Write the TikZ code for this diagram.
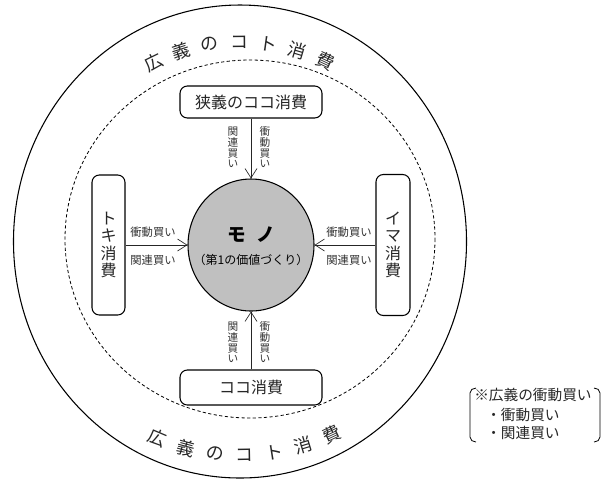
\documentclass[tikz,border=0pt]{standalone}
\usepackage{fontspec}
\setmainfont{Noto Sans CJK JP}
\usetikzlibrary{arrows.meta,shapes.geometric}
\tikzset{
  box/.style={draw, line width=0.8pt, rounded corners=5.5pt, fill=white, inner sep=0pt, text=black!85,
    font=\fontsize{12}{13}\selectfont, align=center},
  arr/.style={line width=0.5pt, draw=black!85, -{Straight Barb[length=7pt,width=9pt,line width=0.5pt]}},
  lbl/.style={inner sep=0pt, text=black!80, font=\fontsize{8}{8}\selectfont, align=center},
  arcch/.style={inner sep=0pt, text=black!85, font=\fontsize{13.5}{13.5}\selectfont},
  note/.style={inner sep=0pt, anchor=west, text=black!85, font=\fontsize{11}{11}\selectfont},
}
\begin{document}
\begin{tikzpicture}[x=0.75pt, y=-0.75pt]
\useasboundingbox (0,0) rectangle (605,480);
% outer solid and dashed circles
\draw[line width=0.8pt] (240,241.5) ellipse [x radius=226.5, y radius=236.5];
\draw[line width=0.6pt, dash pattern=on 2.4pt off 1.8pt] (250,239) ellipse [x radius=185, y radius=179];
% centre
\node[ellipse, draw, line width=0.8pt, fill={rgb,255:red,192;green,192;blue,192},
      minimum width=126*0.75pt, minimum height=132*0.75pt, inner sep=0pt] (mono) at (251,245) {};
\node[inner sep=0pt, font=\fontsize{14}{14}\selectfont\bfseries] (monot) at (251,235) {モ\hspace{8pt}ノ};
\node[inner sep=0pt, font=\fontsize{9}{9}\selectfont] (monos) at (251,260) {（第1の価値づくり）};
% boxes
\node[box, minimum width=142*0.75pt, minimum height=32*0.75pt] (topbox) at (251,102) {狭義のココ消費};
\node[box, minimum width=142*0.75pt, minimum height=35*0.75pt] (botbox) at (251,387.5) {ココ消費};
\node[box, minimum width=33*0.75pt, minimum height=140*0.75pt] (leftbox) at (108.5,245) {ト\\キ\\消\\費};
\node[box, minimum width=34*0.75pt, minimum height=141*0.75pt] (rightbox) at (393,245) {イ\\マ\\消\\費};
% arrows
\draw[arr] (topbox) -- (mono);
\draw[arr] (botbox) -- (mono);
\draw[arr] (leftbox) -- (mono);
\draw[arr] (rightbox) -- (mono);
% arrow labels
\node[lbl] (tl) at (233,147.5) {関\\連\\買\\い};
\node[lbl] (tr) at (265,147.5) {衝\\動\\買\\い};
\node[lbl] (bl) at (233,342.5) {関\\連\\買\\い};
\node[lbl] (br) at (265,342.5) {衝\\動\\買\\い};
\node[lbl, font=\fontsize{8.5}{8.5}\selectfont] (la) at (153,232) {衝動買い};
\node[lbl, font=\fontsize{8.5}{8.5}\selectfont] (lb) at (153,260) {関連買い};
\node[lbl, font=\fontsize{8.5}{8.5}\selectfont] (ra) at (349,232) {衝動買い};
\node[lbl, font=\fontsize{8.5}{8.5}\selectfont] (rb) at (349,260) {関連買い};
% arc text top
\foreach \c [count=\i from 0] in {広,義,の,コ,ト,消,費}{
  \pgfmathsetmacro\a{116-8.5*\i}
  \node[arcch, rotate=\a-90] (ta\i) at ({241+199*cos(\a)},{241-199*sin(\a)}) {\c};
}
% arc text bottom
\foreach \c [count=\i from 0] in {広,義,の,コ,ト,消,費}{
  \pgfmathsetmacro\a{247+8*\i}
  \node[arcch, rotate=\a-270] (ba\i) at ({241+214*cos(\a)},{241-214*sin(\a)}) {\c};
}
% note
\node[note] (n1) at (474,395) {※広義の衝動買い};
\node[note] (n2) at (486,415) {・衝動買い};
\node[note] (n3) at (486,433) {・関連買い};
\draw[line width=0.6pt] (476,388) to[out=180,in=90] (470,393) -- (470,437) to[out=-90,in=180] (476,442);
\draw[line width=0.6pt] (594,388) to[out=0,in=90] (600,393) -- (600,437) to[out=-90,in=0] (594,442);
\end{tikzpicture}
\end{document}
